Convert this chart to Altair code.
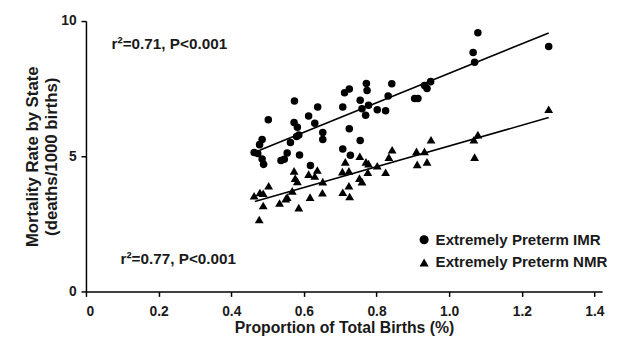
import altair as alt
import pandas as pd

# Extremely preterm infant mortality rate (IMR) by state
imr_x = [0.463, 0.473, 0.478, 0.485, 0.485, 0.489, 0.502, 0.537, 0.546, 0.554,
         0.563, 0.573, 0.574, 0.580, 0.582, 0.586, 0.588, 0.613, 0.618, 0.630,
         0.638, 0.652, 0.652, 0.707, 0.707, 0.712, 0.725, 0.725, 0.728, 0.755,
         0.755, 0.760, 0.770, 0.772, 0.774, 0.778, 0.802, 0.825, 0.832, 0.842,
         0.905, 0.914, 0.932, 0.939, 0.949, 1.066, 1.070, 1.079, 1.274]
imr_y = [5.14, 5.10, 5.43, 5.62, 4.90, 4.70, 6.35, 4.84, 4.89, 5.12,
         5.51, 6.25, 7.04, 5.73, 6.07, 5.79, 5.05, 6.49, 4.66, 6.22,
         6.82, 5.88, 5.62, 6.82, 5.27, 7.35, 7.49, 6.02, 5.04, 5.58,
         7.07, 6.76, 6.52, 7.69, 7.43, 6.89, 6.72, 6.68, 7.23, 7.68,
         7.14, 7.14, 7.62, 7.51, 7.76, 8.84, 8.48, 9.57, 9.06]

# Extremely preterm neonatal mortality rate (NMR) by state
nmr_x = [0.463, 0.477, 0.479, 0.488, 0.488, 0.503, 0.533, 0.550, 0.554, 0.573,
         0.576, 0.582, 0.568, 0.586, 0.613, 0.617, 0.630, 0.637, 0.652, 0.651,
         0.707, 0.714, 0.706, 0.724, 0.724, 0.726, 0.754, 0.753, 0.760, 0.771,
         0.778, 0.776, 0.802, 0.825, 0.834, 0.843, 0.910, 0.932, 0.912, 0.939,
         0.950, 1.068, 1.079, 1.070, 1.274]
nmr_y = [3.54, 2.66, 3.66, 3.63, 3.18, 3.91, 3.27, 3.43, 3.49, 4.46,
         4.19, 4.07, 3.72, 3.10, 4.34, 3.49, 4.27, 4.49, 4.06, 3.65,
         3.67, 4.79, 4.43, 4.46, 3.91, 3.51, 5.00, 4.19, 4.06, 4.79,
         4.73, 4.41, 4.65, 4.41, 4.97, 5.24, 5.18, 5.18, 4.70, 4.79,
         5.61, 5.61, 5.80, 4.97, 6.74]

# Regression line end points
fit_imr_x = [0.478, 1.274]
fit_imr_y = [5.22, 9.56]
fit_nmr_x = [0.465, 1.274]
fit_nmr_y = [3.33, 6.43]

series_names = ["Extremely Preterm IMR", "Extremely Preterm NMR"]
x_ticks = [0, 0.2, 0.4, 0.6, 0.8, 1.0, 1.2, 1.4]
y_ticks = [0, 5, 10]
annotations = ["r\u00b2=0.71, P<0.001", "r\u00b2=0.77, P<0.001"]

imr_df = pd.DataFrame({"x": imr_x, "y": imr_y, "series": series_names[0]})
nmr_df = pd.DataFrame({"x": nmr_x, "y": nmr_y, "series": series_names[1]})
fits = pd.DataFrame(
    {"x": fit_imr_x + fit_nmr_x,
     "y": fit_imr_y + fit_nmr_y,
     "series": [series_names[0]] * 2 + [series_names[1]] * 2}
)

FONT = "Liberation Sans"
TXT = "#1a1a1a"

xscale = alt.Scale(domain=[0, 1.421], nice=False, zero=True)
yscale = alt.Scale(domain=[0, 10], nice=False)

xaxis = alt.Axis(
    values=x_ticks,
    labelExpr="datum.value == 0 ? '0' : format(datum.value, '.1f')",
    labelPadding=8,
    title="Proportion of Total Births (%)",
    titleY=29, titleBaseline="top", titleFontSize=16,
)
yaxis = alt.Axis(
    values=y_ticks, format="d", labelPadding=5,
    title=["Mortality Rate by State", "(deaths/1000 births)"],
    titleX=-45, titleY=137, titleBaseline="bottom", titleAlign="center",
    titleLineHeight=19, titleFontSize=17,
)

shape_enc = alt.Shape(
    "series:N",
    scale=alt.Scale(domain=series_names, range=["circle", "triangle-up"]),
    legend=alt.Legend(
        title=None, orient="none", legendX=335, legendY=214,
        labelFont=FONT, labelFontSize=15.3, labelFontWeight="bold",
        labelColor=TXT, symbolFillColor="black", symbolStrokeColor="black",
        symbolSize=85, labelOffset=4, rowPadding=7, padding=0,
        labelLimit=300,
    ),
)

imr_pts = alt.Chart(imr_df).mark_point(filled=True, opacity=1, color="black", size=58).encode(
    x=alt.X("x:Q", scale=xscale, axis=xaxis),
    y=alt.Y("y:Q", scale=yscale, axis=yaxis),
    shape=shape_enc,
)
nmr_pts = alt.Chart(nmr_df).mark_point(filled=True, opacity=1, color="black", size=80).encode(
    x=alt.X("x:Q", scale=xscale),
    y=alt.Y("y:Q", scale=yscale),
    shape=shape_enc,
)

lines = alt.Chart(fits).mark_line(color="black", strokeWidth=1.6).encode(
    x=alt.X("x:Q", scale=xscale),
    y=alt.Y("y:Q", scale=yscale),
    detail="series:N",
)

ann_df = pd.DataFrame({"label": annotations, "px": [26, 35], "py": [23, 241]})
ann = alt.Chart(ann_df).mark_text(
    align="left", baseline="middle", font=FONT, fontSize=15.5, fontWeight="bold", color=TXT
).encode(
    x=alt.X("px:Q", scale=None),
    y=alt.Y("py:Q", scale=None),
    text="label:N",
)

chart = alt.layer(lines, imr_pts, nmr_pts, ann).properties(
    width=523, height=274,
    autosize=alt.AutoSizeParams(type="none"),
    padding={"left": 79, "top": 11, "right": 7, "bottom": 50},
).configure_view(stroke=None).configure_axis(
    grid=False,
    domainColor="black", domainWidth=1.5,
    tickColor="black", tickWidth=1.5, tickSize=5,
    labelFont=FONT, labelFontSize=14, labelFontWeight="bold", labelColor=TXT,
    titleFont=FONT, titleFontWeight="bold", titleColor=TXT,
)

chart.save("out.html", embed_options={"renderer": "svg", "actions": False})
